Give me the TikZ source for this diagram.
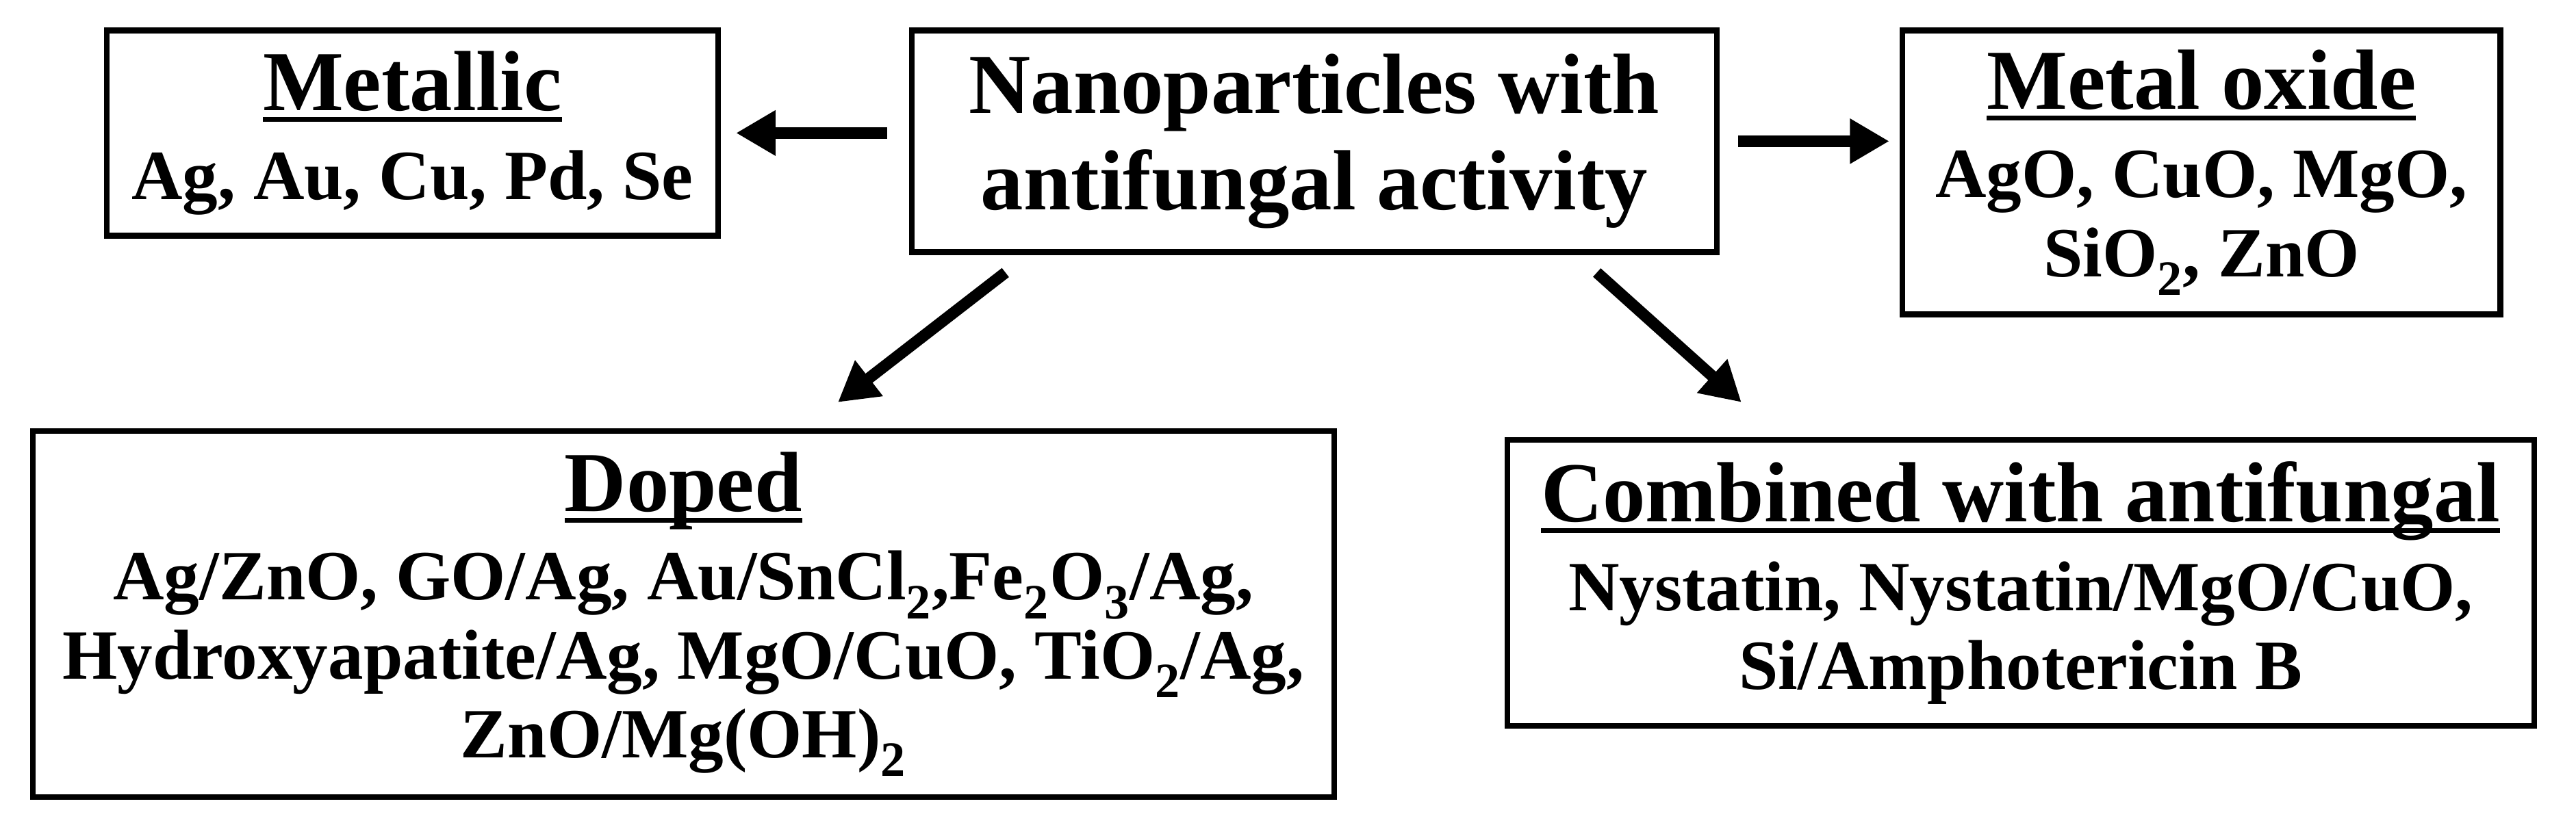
\documentclass[tikz,border=0pt]{standalone}
\usepackage{fontspec}
\setmainfont{Liberation Serif}
\usetikzlibrary{arrows.meta}
\newsavebox{\hdbox}
\newcommand{\hd}[1]{{\fontsize{52}{56}\selectfont\sbox{\hdbox}{#1}\rlap{\rule[-7pt]{\wd\hdbox}{3pt}}\usebox{\hdbox}}\\[6pt]}
\begin{document}
\begin{tikzpicture}[x=1pt,y=-1pt,
  box/.style={draw,line width=3.5pt,inner sep=0pt,align=center,font=\bfseries\fontsize{43}{48}\selectfont},
  arr/.style={line width=7pt,-{Triangle[length=24pt,width=26pt]}}]
\useasboundingbox (0,0) rectangle (1568,500);
\node[box,minimum width=372,minimum height=125] (met) at (251,81) {\hd{Metallic}Ag, Au, Cu, Pd, Se};
\node[box,minimum width=490,minimum height=135,font=\bfseries\fontsize{52}{59}\selectfont] (np) at (800,86) {Nanoparticles with\\antifungal activity};
\node[box,minimum width=364,minimum height=173] (mo) at (1340,105) {\hd{Metal oxide}AgO, CuO, MgO,\\SiO\textsubscript{2}, ZnO};
\node[box,minimum width=792,minimum height=223] (dop) at (416,374) {\hd{Doped}Ag/ZnO, GO/Ag, Au/SnCl\textsubscript{2},Fe\textsubscript{2}O\textsubscript{3}/Ag,\\Hydroxyapatite/Ag, MgO/CuO, TiO\textsubscript{2}/Ag,\\ZnO/Mg(OH)\textsubscript{2}};
\node[box,minimum width=625,minimum height=174] (comb) at (1230,355) {\hd{Combined with antifungal}Nystatin, Nystatin/MgO/CuO,\\Si/Amphotericin B};
\coordinate (a1) at (540,81); \coordinate (b1) at (448,81);
\coordinate (a2) at (1058,86); \coordinate (b2) at (1150,86);
\coordinate (a3) at (612,166); \coordinate (b3) at (510,245);
\coordinate (a4) at (972,166); \coordinate (b4) at (1060,245);
\draw[arr] (a1) -- (b1);
\draw[arr] (a2) -- (b2);
\draw[arr] (a3) -- (b3);
\draw[arr] (a4) -- (b4);
\end{tikzpicture}
\end{document}
